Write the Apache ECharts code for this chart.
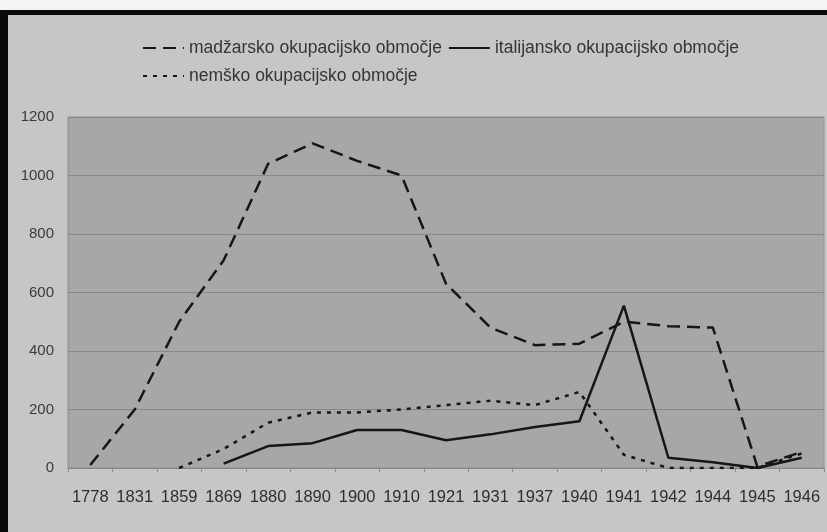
<!DOCTYPE html>
<html>
<head>
<meta charset="utf-8">
<script src="https://cdn.jsdelivr.net/npm/echarts@6/dist/echarts.min.js"></script>
<style>
  html, body { margin: 0; padding: 0; background: #c5c7c7; }
  #main { width: 827px; height: 532px; }
</style>
</head>
<body>
<div id="main"></div>
<script>
// leta
var years = ['1778', '1831', '1859', '1869', '1880', '1890', '1900', '1910', '1921',
  '1931', '1937', '1940', '1941', '1942', '1944', '1945', '1946'];
// madžarsko okupacijsko območje
var madzarsko = [10, 200, 500, 710, 1040, 1110, 1050, 1000, 630, 480, 420, 425, 500, 485, 480, 5, 55];
// italijansko okupacijsko območje
var italijansko = [null, null, null, 15, 75, 85, 130, 130, 95, 115, 140, 160, 555, 35, 20, 0, 35];
// nemško okupacijsko območje
var nemsko = [null, null, 0, 65, 155, 190, 190, 200, 215, 230, 215, 260, 45, 0, 0, 0, 50];

var names = ['madžarsko okupacijsko območje', 'italijansko okupacijsko območje', 'nemško okupacijsko območje'];

var chartDom = document.getElementById('main');
var myChart = echarts.init(chartDom);

var lineColor = '#161616';
var legendText = { fontFamily: 'Liberation Sans, Arial, sans-serif', fontSize: 17.5, color: '#353535' };

var option = {
  backgroundColor: '#c5c7c7',
  animation: false,
  // okvir fotografije
  graphic: [
    { type: 'rect', shape: { x: 0, y: 0, width: 827, height: 10 }, style: { fill: '#f4f4f4' } },
    { type: 'rect', shape: { x: 0, y: 10, width: 827, height: 5 }, style: { fill: '#0a0a0a' } },
    { type: 'rect', shape: { x: 0, y: 10, width: 8, height: 522 }, style: { fill: '#0a0a0a' } }
  ],
  legend: [
    {
      data: [names[0], names[1]],
      left: 142,
      top: 39,
      padding: 0,
      itemWidth: 41,
      itemHeight: 14,
      itemGap: 6,
      itemStyle: { opacity: 0 },
      textStyle: legendText
    },
    {
      data: [names[2]],
      left: 142,
      top: 67,
      padding: 0,
      itemWidth: 41,
      itemHeight: 14,
      itemStyle: { opacity: 0 },
      textStyle: legendText
    }
  ],
  grid: {
    left: 68,
    right: 3,
    top: 117,
    bottom: 64,
    show: true,
    backgroundColor: '#a6a7a7',
    borderColor: '#8e8e8e',
    borderWidth: 1
  },
  xAxis: {
    type: 'category',
    data: years,
    boundaryGap: true,
    axisLine: { lineStyle: { color: '#858585', width: 1 } },
    axisTick: { show: true, length: 4, lineStyle: { color: '#8a8a8a' } },
    axisLabel: {
      margin: 21,
      interval: 0,
      fontFamily: 'Liberation Sans, Arial, sans-serif',
      fontSize: 16.5,
      color: '#2e2e2e'
    }
  },
  yAxis: {
    type: 'value',
    min: 0,
    max: 1200,
    interval: 200,
    axisLine: { show: false },
    axisTick: { show: false },
    splitLine: { lineStyle: { color: '#888888', width: 1 } },
    axisLabel: {
      margin: 14,
      fontFamily: 'Liberation Sans, Arial, sans-serif',
      fontSize: 15,
      color: '#3a3a3a',
      formatter: function (v) {
        return String(v);
      }
    }
  },
  series: [
    {
      name: names[0],
      type: 'line',
      data: madzarsko,
      symbol: 'none',
      lineStyle: { color: lineColor, width: 2.5, type: [13, 7] },
      itemStyle: { color: lineColor }
    },
    {
      name: names[1],
      type: 'line',
      data: italijansko,
      symbol: 'none',
      lineStyle: { color: lineColor, width: 2.5, type: 'solid' },
      itemStyle: { color: lineColor }
    },
    {
      name: names[2],
      type: 'line',
      data: nemsko,
      symbol: 'none',
      lineStyle: { color: lineColor, width: 2.5, type: [4, 6] },
      itemStyle: { color: lineColor }
    }
  ]
};

myChart.setOption(option);
window.onresize = function () {
  myChart.resize();
};
</script>
</body>
</html>
